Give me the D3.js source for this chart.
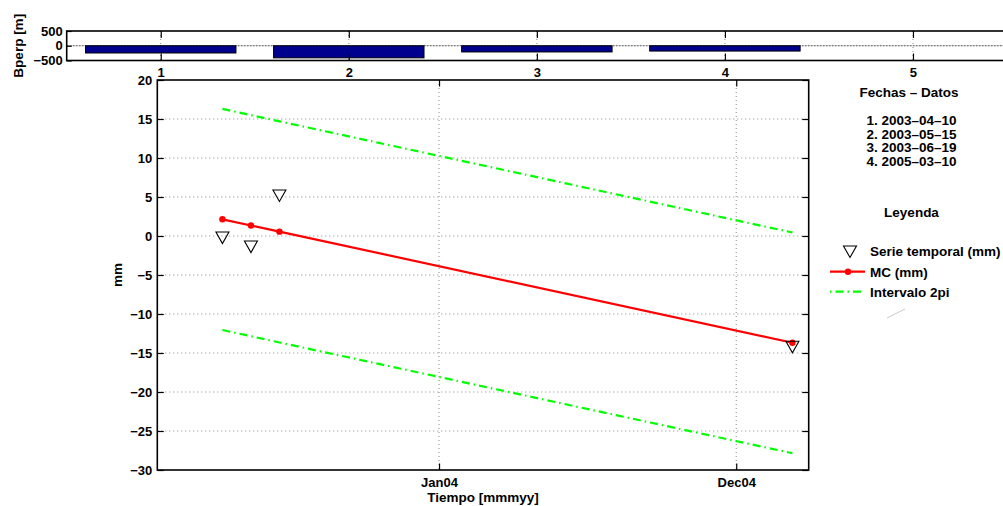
<!DOCTYPE html>
<html lang="es">
<head>
    <meta charset="utf-8" />
    <title>Serie temporal</title>
    <script src="https://d3js.org/d3.v7.min.js"></script>
    <style>
        body { margin: 0; background: #fff; }
        text { font-family: "Liberation Sans", Arial, sans-serif; font-weight: bold; font-size: 13.5px; fill: #000; }
        .tick text { font-size: 13px; }
        .grid line { stroke: #8a8a8a; stroke-width: 1; stroke-dasharray: 1,3; }
        .box { fill: none; stroke: #000; stroke-width: 1.6; }
        .tick line { stroke: #000; stroke-width: 1.2; }
        .domain { display: none; }
    </style>
</head>
<body>
<svg width="1003" height="506"></svg>
<script>
    // baselines (perpendicular) per image pair
    var pares = [1, 2, 3, 4, 5];
    var bperp = [-245, -410, -210, -180, 0];
    var bperpTicks = [-500, 0, 500];

    // dates of each acquisition
    var fechas = ["2003-04-10", "2003-05-15", "2003-06-19", "2005-03-10"];
    var serie = [-0.2, -1.35, 5.2, -14.2];
    var mc = [2.14, 1.35, 0.56, -13.68];
    var intSup = [16.3, 15.5, 14.7, 0.45];
    var intInf = [-12.05, -12.85, -13.65, -27.85];

    var xDomain = ["2003-01-20", "2005-03-30"];
    var xTicks = ["2004-01-01", "2004-12-31"];
    var xTickLabels = ["Jan04", "Dec04"];
    var yTicks = [-30, -25, -20, -15, -10, -5, 0, 5, 10, 15, 20];

    var parse = d3.utcParse("%Y-%m-%d");
    var svg = d3.select("svg");
    var fmtTick = function (d) { return d < 0 ? "\u2212" + (-d) : d; };

    //---------- top panel: Bperp bars ----------
    var tp = { left: 66.7, right: 1007, top: 31, bottom: 60.5 };
    var xb = d3.scaleLinear().domain([0.5, 5.5]).range([tp.left, tp.right]);
    var yb = d3.scaleLinear().domain([-500, 500]).range([tp.bottom, tp.top]);
    var gTop = svg.append("g");

    // grid
    var gGridTop = gTop.append("g").attr("class", "grid");
    gGridTop.selectAll("line.v").data(pares).enter().append("line")
        .attr("x1", function (d) { return xb(d); }).attr("x2", function (d) { return xb(d); })
        .attr("y1", tp.top).attr("y2", tp.bottom);
    gGridTop.append("line")
        .attr("x1", tp.left).attr("x2", tp.right)
        .attr("y1", yb(0)).attr("y2", yb(0))
        .style("stroke", "#555").style("stroke-dasharray", "2,1");

    gTop.selectAll("rect.bar").data(pares).enter().append("rect")
        .attr("class", "bar")
        .attr("x", function (d) { return xb(d - 0.4); })
        .attr("width", function (d) { return xb(d + 0.4) - xb(d - 0.4); })
        .attr("y", function (d, i) { return yb(Math.max(0, bperp[i])); })
        .attr("height", function (d, i) { return Math.abs(yb(bperp[i]) - yb(0)); })
        .attr("fill", "#00008f").attr("stroke", "#000").attr("stroke-width", 1);

    // axes (ticks pointing inward)
    gTop.append("g").attr("transform", "translate(0," + tp.bottom + ")")
        .call(d3.axisBottom(xb).tickValues(pares).tickFormat(d3.format("d")).tickSizeInner(-7).tickSizeOuter(0).tickPadding(7));
    gTop.append("g").attr("transform", "translate(0," + tp.top + ")")
        .call(d3.axisTop(xb).tickValues(pares).tickFormat("").tickSizeInner(-7).tickSizeOuter(0));
    gTop.append("g").attr("transform", "translate(" + tp.left + ",0)")
        .call(d3.axisLeft(yb).tickValues(bperpTicks).tickFormat(fmtTick)
            .tickSizeInner(-5).tickSizeOuter(0).tickPadding(4));
    gTop.append("rect").attr("class", "box")
        .attr("x", tp.left).attr("y", tp.top)
        .attr("width", tp.right - tp.left).attr("height", tp.bottom - tp.top);
    gTop.append("text")
        .attr("transform", "translate(22.5," + (tp.top + tp.bottom) / 2 + ") rotate(-90)")
        .attr("text-anchor", "middle")
        .text("Bperp [m]");

    //---------- main panel ----------
    var m = { left: 157.3, right: 808.7, top: 80, bottom: 470 };
    var x = d3.scaleUtc().domain(xDomain.map(parse)).range([m.left, m.right]);
    var y = d3.scaleLinear().domain([-30, 20]).range([m.bottom, m.top]);
    var g = svg.append("g");

    var gGrid = g.append("g").attr("class", "grid");
    gGrid.selectAll("line.h").data(yTicks.slice(1, -1)).enter().append("line")
        .attr("x1", m.left).attr("x2", m.right)
        .attr("y1", function (d) { return y(d); }).attr("y2", function (d) { return y(d); });
    gGrid.selectAll("line.v").data(xTicks).enter().append("line")
        .attr("x1", function (d) { return x(parse(d)); }).attr("x2", function (d) { return x(parse(d)); })
        .attr("y1", m.top).attr("y2", m.bottom);

    g.append("g").attr("transform", "translate(" + m.left + ",0)")
        .call(d3.axisLeft(y).tickValues(yTicks).tickFormat(fmtTick).tickSizeInner(-6.5).tickSizeOuter(0).tickPadding(5));
    g.append("g").attr("transform", "translate(" + m.right + ",0)")
        .call(d3.axisRight(y).tickValues(yTicks).tickFormat("").tickSizeInner(-6.5).tickSizeOuter(0));
    g.append("g").attr("transform", "translate(0," + m.bottom + ")")
        .call(d3.axisBottom(x).tickValues(xTicks.map(parse))
            .tickFormat(function (d, i) { return xTickLabels[i]; })
            .tickSizeInner(-6.5).tickSizeOuter(0).tickPadding(8));
    g.append("g").attr("transform", "translate(0," + m.top + ")")
        .call(d3.axisTop(x).tickValues(xTicks.map(parse)).tickFormat("").tickSizeInner(-6.5).tickSizeOuter(0));
    g.append("rect").attr("class", "box")
        .attr("x", m.left).attr("y", m.top)
        .attr("width", m.right - m.left).attr("height", m.bottom - m.top);

    // 2pi interval
    var lineOf = function (vals) {
        return d3.line()
            .x(function (d, i) { return x(parse(fechas[i])); })
            .y(function (d) { return y(d); })(vals);
    };
    [intSup, intInf].forEach(function (vals) {
        g.append("path").attr("d", lineOf(vals))
            .attr("fill", "none").attr("stroke", "#00ff00").attr("stroke-width", 2.2)
            .attr("stroke-dasharray", "8,4,1.5,4");
    });

    // least squares line
    g.append("path").attr("d", lineOf(mc))
        .attr("fill", "none").attr("stroke", "#ff0000").attr("stroke-width", 2.2);
    g.selectAll("circle.mc").data(mc).enter().append("circle")
        .attr("cx", function (d, i) { return x(parse(fechas[i])); })
        .attr("cy", function (d) { return y(d); })
        .attr("r", 3.2).attr("fill", "#ff0000");

    // time series triangles
    var tri = "M-6.5,-5.5L6.5,-5.5L0,6Z";
    g.selectAll("path.tri").data(serie).enter().append("path")
        .attr("d", tri)
        .attr("transform", function (d, i) { return "translate(" + x(parse(fechas[i])) + "," + y(d) + ")"; })
        .attr("fill", "none").attr("stroke", "#000").attr("stroke-width", 1.1);

    g.append("text").attr("x", (m.left + m.right) / 2).attr("y", 502)
        .attr("text-anchor", "middle").text("Tiempo [mmmyy]");
    g.append("text")
        .attr("transform", "translate(122," + (m.top + m.bottom) / 2 + ") rotate(-90)")
        .attr("text-anchor", "middle").text("mm");

    //---------- side texts / legend ----------
    var side = svg.append("g").attr("text-anchor", "middle");
    side.append("text").attr("x", 909).attr("y", 97).text("Fechas \u2013 Datos");
    fechas.forEach(function (f, i) {
        side.append("text").attr("x", 911.5).attr("y", 125 + i * 13.7)
            .text((i + 1) + ". " + f.replace(/-/g, "\u2013"));
    });
    side.append("text").attr("x", 911.5).attr("y", 217).text("Leyenda");

    var leg = svg.append("g");
    leg.append("path").attr("d", tri).attr("transform", "translate(850,251.5)")
        .attr("fill", "none").attr("stroke", "#000").attr("stroke-width", 1.1);
    leg.append("text").attr("x", 870).attr("y", 256).text("Serie temporal (mm)");
    leg.append("line").attr("x1", 830).attr("x2", 865).attr("y1", 271.7).attr("y2", 271.7)
        .attr("stroke", "#ff0000").attr("stroke-width", 2.2);
    leg.append("circle").attr("cx", 848).attr("cy", 271.7).attr("r", 3.2).attr("fill", "#ff0000");
    leg.append("text").attr("x", 870).attr("y", 276.5).text("MC (mm)");
    leg.append("line").attr("x1", 830).attr("x2", 865).attr("y1", 291.7).attr("y2", 291.7)
        .attr("stroke", "#00ff00").attr("stroke-width", 2.2).attr("stroke-dasharray", "1.5,4,8,4");
    leg.append("text").attr("x", 870).attr("y", 296.5).text("Intervalo 2pi");
    // faint stray stroke under the legend
    leg.append("line").attr("x1", 887).attr("y1", 318).attr("x2", 905).attr("y2", 309)
        .attr("stroke", "#bbb").attr("stroke-width", 0.8);
</script>
</body>
</html>
